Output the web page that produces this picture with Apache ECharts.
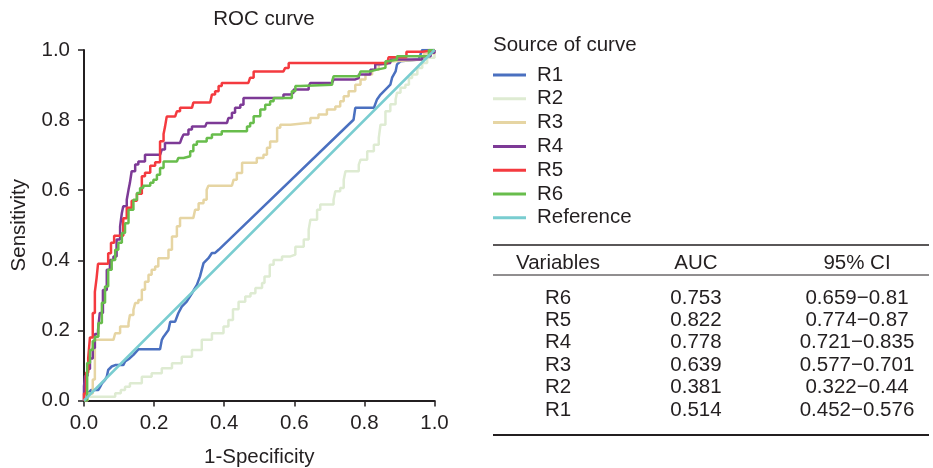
<!DOCTYPE html>
<html>
<head>
<meta charset="utf-8">
<script src="https://cdn.jsdelivr.net/npm/echarts@6/dist/echarts.min.js"></script>
<style>
  html, body { margin: 0; padding: 0; background: #fff; }
  #chart { width: 933px; height: 468px; }
</style>
</head>
<body>
<div id="chart"></div>
<script>
// ROC points as [1-specificity, sensitivity]
const r1 = [[0,0],[0.012,0.021],[0.02,0.03],[0.041,0.03],[0.046,0.039],[0.051,0.049],[0.06,0.059],[0.065,0.068],[0.069,0.087],[0.079,0.097],[0.089,0.101],[0.112,0.101],[0.117,0.111],[0.13,0.12],[0.141,0.13],[0.155,0.146],[0.217,0.146],[0.222,0.173],[0.227,0.182],[0.241,0.201],[0.246,0.225],[0.26,0.225],[0.269,0.249],[0.279,0.268],[0.293,0.282],[0.308,0.306],[0.322,0.33],[0.331,0.354],[0.341,0.392],[0.355,0.406],[0.365,0.421],[0.374,0.421],[0.384,0.43],[0.769,0.801],[0.774,0.835],[0.827,0.835],[0.836,0.859],[0.846,0.873],[0.865,0.892],[0.874,0.901],[0.879,0.921],[0.889,0.939],[0.893,0.959],[0.903,0.968],[0.908,0.973],[0.955,0.973],[0.96,0.987],[0.965,1],[1,1]]
const r2 = [[0,0],[0.003,0.011],[0.079,0.011],[0.089,0.021],[0.105,0.03],[0.117,0.039],[0.131,0.049],[0.165,0.068],[0.193,0.078],[0.222,0.092],[0.251,0.106],[0.279,0.125],[0.308,0.144],[0.336,0.173],[0.365,0.192],[0.398,0.211],[0.412,0.23],[0.425,0.26],[0.441,0.282],[0.46,0.297],[0.475,0.306],[0.489,0.321],[0.508,0.335],[0.515,0.354],[0.53,0.387],[0.541,0.401],[0.565,0.411],[0.589,0.416],[0.603,0.439],[0.627,0.459],[0.641,0.487],[0.646,0.516],[0.665,0.544],[0.674,0.559],[0.712,0.573],[0.717,0.597],[0.731,0.606],[0.741,0.63],[0.746,0.654],[0.784,0.673],[0.789,0.687],[0.808,0.711],[0.827,0.73],[0.841,0.749],[0.846,0.787],[0.86,0.825],[0.874,0.845],[0.889,0.859],[0.893,0.878],[0.903,0.892],[0.917,0.901],[0.927,0.92],[0.936,0.93],[0.951,0.949],[0.965,0.963],[0.979,0.978],[1,1]]
const r3 = [[0,0],[0.01,0.02],[0.025,0.06],[0.031,0.173],[0.084,0.173],[0.089,0.192],[0.103,0.211],[0.127,0.221],[0.131,0.244],[0.141,0.259],[0.146,0.278],[0.155,0.287],[0.165,0.316],[0.174,0.339],[0.184,0.359],[0.193,0.373],[0.203,0.382],[0.212,0.406],[0.231,0.406],[0.241,0.43],[0.251,0.468],[0.265,0.497],[0.274,0.521],[0.312,0.521],[0.317,0.544],[0.327,0.563],[0.341,0.573],[0.35,0.601],[0.355,0.613],[0.422,0.613],[0.427,0.63],[0.436,0.649],[0.451,0.678],[0.484,0.678],[0.493,0.692],[0.512,0.701],[0.522,0.721],[0.531,0.739],[0.551,0.778],[0.56,0.787],[0.589,0.792],[0.636,0.792],[0.646,0.806],[0.669,0.816],[0.693,0.83],[0.717,0.839],[0.731,0.854],[0.741,0.868],[0.755,0.882],[0.774,0.901],[0.789,0.916],[0.803,0.93],[0.822,0.944],[0.841,0.959],[0.865,0.968],[0.884,0.973],[0.97,0.99],[1,1]]
const r4 = [[0,0],[0,0.04],[0.003,0.07],[0.01,0.09],[0.017,0.12],[0.025,0.15],[0.031,0.19],[0.04,0.2],[0.045,0.25],[0.054,0.315],[0.065,0.373],[0.074,0.401],[0.084,0.411],[0.093,0.459],[0.103,0.497],[0.108,0.535],[0.112,0.554],[0.122,0.573],[0.127,0.601],[0.131,0.621],[0.136,0.654],[0.146,0.673],[0.155,0.682],[0.174,0.701],[0.217,0.701],[0.222,0.716],[0.231,0.735],[0.274,0.735],[0.279,0.749],[0.284,0.759],[0.298,0.773],[0.308,0.782],[0.346,0.782],[0.35,0.792],[0.408,0.792],[0.412,0.806],[0.422,0.821],[0.431,0.835],[0.446,0.844],[0.455,0.863],[0.536,0.863],[0.569,0.873],[0.589,0.878],[0.598,0.887],[0.641,0.897],[0.646,0.906],[0.708,0.906],[0.712,0.916],[0.774,0.92],[0.784,0.93],[0.817,0.944],[0.831,0.959],[0.846,0.963],[0.874,0.973],[0.965,0.973],[0.965,0.982],[0.989,0.992],[1,1]]
const r5 = [[0,0],[0,0.02],[0.006,0.02],[0.006,0.08],[0.012,0.12],[0.017,0.18],[0.025,0.25],[0.031,0.31],[0.036,0.35],[0.04,0.39],[0.069,0.39],[0.069,0.42],[0.077,0.42],[0.077,0.45],[0.086,0.47],[0.103,0.47],[0.112,0.52],[0.122,0.55],[0.136,0.57],[0.151,0.59],[0.165,0.64],[0.174,0.65],[0.189,0.67],[0.203,0.68],[0.217,0.68],[0.217,0.74],[0.227,0.76],[0.231,0.78],[0.236,0.81],[0.26,0.81],[0.265,0.825],[0.274,0.835],[0.308,0.835],[0.312,0.85],[0.36,0.85],[0.365,0.873],[0.374,0.882],[0.384,0.897],[0.393,0.906],[0.469,0.906],[0.474,0.921],[0.484,0.939],[0.569,0.939],[0.574,0.949],[0.584,0.963],[0.865,0.963],[0.869,0.979],[0.92,0.979],[0.92,0.995],[0.96,0.995],[0.966,1],[1,1]]
const r6 = [[0,0],[0.009,0.01],[0.009,0.107],[0.017,0.144],[0.025,0.17],[0.031,0.182],[0.041,0.221],[0.051,0.279],[0.06,0.325],[0.069,0.373],[0.079,0.401],[0.089,0.43],[0.098,0.45],[0.108,0.478],[0.117,0.506],[0.127,0.544],[0.141,0.573],[0.151,0.592],[0.16,0.606],[0.169,0.613],[0.189,0.621],[0.198,0.63],[0.208,0.644],[0.217,0.663],[0.227,0.682],[0.265,0.682],[0.269,0.692],[0.284,0.692],[0.289,0.697],[0.303,0.711],[0.312,0.73],[0.322,0.739],[0.35,0.749],[0.365,0.759],[0.393,0.768],[0.455,0.768],[0.465,0.782],[0.474,0.792],[0.484,0.811],[0.503,0.83],[0.517,0.844],[0.531,0.854],[0.541,0.863],[0.584,0.863],[0.593,0.882],[0.603,0.897],[0.617,0.901],[0.708,0.911],[0.712,0.925],[0.784,0.925],[0.789,0.939],[0.817,0.944],[0.836,0.949],[0.86,0.968],[0.869,0.973],[0.893,0.982],[0.969,0.982],[0.984,1],[1,1]]
const reference = [[0,0],[1,1]]

const seriesNames = ['R1', 'R2', 'R3', 'R4', 'R5', 'R6', 'Reference']
const seriesColors = ['#4a70c0', '#deebd2', '#e6d5a3', '#7d3a96', '#f43a3f', '#68bd4c', '#79cdd0']
const seriesData = [r1, r2, r3, r4, r5, r6, reference]

// AUC table
const tableVars = ['R6', 'R5', 'R4', 'R3', 'R2', 'R1']
const tableAuc = ['0.753', '0.822', '0.778', '0.639', '0.381', '0.514']
const tableCi = ['0.659\u22120.81', '0.774\u22120.87', '0.721\u22120.835', '0.577\u22120.701', '0.322\u22120.44', '0.452\u22120.576']

const fontFamily = '"Liberation Sans", Arial, sans-serif'
const fontSize = 20.5
const ink = '#231f20'

const colX = [558, 696, 857]
const txt = (x, y, s) => ({
  type: 'text', x, y,
  style: { text: s, fill: ink, font: fontSize + 'px ' + fontFamily, align: 'center', verticalAlign: 'middle' }
})
const hline = (y, w) => ({
  type: 'line', shape: { x1: 493, y1: y, x2: 929, y2: y },
  style: { stroke: ink, lineWidth: w }
})

const graphic = [hline(245, 1.5), hline(275, 1), hline(435, 2),
  txt(colX[0], 263, 'Variables'), txt(colX[1], 263, 'AUC'), txt(colX[2], 263, '95% CI')]
tableVars.forEach((v, i) => {
  const y = 298 + i * 22.4
  graphic.push(txt(colX[0], y, v), txt(colX[1], y, tableAuc[i]), txt(colX[2], y, tableCi[i]))
})

const chart = echarts.init(document.getElementById('chart'))

const axisCommon = {
  type: 'value',
  min: 0,
  max: 1,
  interval: 0.2,
  nameLocation: 'middle',
  nameTextStyle: { color: ink, fontSize, fontFamily },
  axisLine: { show: true, lineStyle: { color: ink, width: 2 } },
  axisTick: { show: true, length: 6, lineStyle: { color: ink, width: 1.5 } },
  axisLabel: { color: ink, fontSize, fontFamily, formatter: v => v.toFixed(1) },
  splitLine: { show: false }
}

chart.setOption({
  backgroundColor: '#fff',
  animation: false,
  title: [
    { text: 'ROC curve', left: 259, top: 4, textAlign: 'center',
      textStyle: { color: ink, fontSize, fontWeight: 'normal', fontFamily } },
    { text: 'Source of curve', left: 488, top: 30,
      textStyle: { color: ink, fontSize, fontWeight: 'normal', fontFamily } }
  ],
  legend: {
    orient: 'vertical',
    left: 493,
    top: 64.5,
    padding: 0,
    icon: 'rect',
    itemWidth: 33,
    itemHeight: 3,
    itemGap: 2.8,
    textStyle: { color: ink, fontSize, fontFamily, lineHeight: 21, padding: [0, 0, 0, 6] },
    data: seriesNames
  },
  grid: { left: 84, top: 50, width: 350.5, height: 350.5, outerBoundsMode: 'none', containLabel: false },
  xAxis: { ...axisCommon, name: '1-Specificity', nameGap: 46,
    axisLabel: { ...axisCommon.axisLabel, margin: 12 } },
  yAxis: { ...axisCommon, name: 'Sensitivity', nameGap: 54,
    axisLabel: { ...axisCommon.axisLabel, margin: 14 } },
  series: seriesNames.map((name, i) => ({
    name,
    type: 'line',
    data: seriesData[i],
    step: (name === 'R1' || name === 'Reference') ? false : 'end',
    showSymbol: false,
    symbol: 'none',
    lineStyle: { color: seriesColors[i], width: 2.5 },
    itemStyle: { color: seriesColors[i] },
    z: 2
  })),
  graphic
})
</script>
</body>
</html>
